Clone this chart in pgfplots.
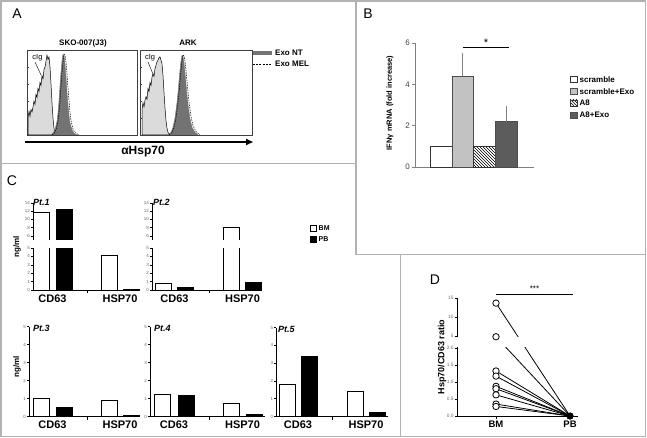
\documentclass[border=0pt]{standalone}
\usepackage{pgfplots}
\pgfplotsset{compat=1.18}
\usepackage{fontspec}
\setmainfont{Liberation Sans}
\usetikzlibrary{patterns,arrows.meta}
\newcommand\fs[1]{\fontsize{#1}{#1}\selectfont}
\definecolor{framec}{gray}{0.70}
\definecolor{isoc}{gray}{0.86}
\definecolor{ntc}{gray}{0.45}
\definecolor{lgray}{gray}{0.76}
\definecolor{dgray}{gray}{0.36}
\definecolor{tickc}{gray}{0.40}
\pgfplotsset{
 every axis/.append style={/pgf/number format/assume math mode=true},
 cax/.style={scale only axis, anchor=south west, axis lines*=left, clip=true,
   axis line style={black, line width=0.9pt}, tick style={black, line width=0.5pt},
   major tick length=2pt, tick align=outside, xmin=0, ymin=0,
   yticklabel style={font=\fs{4.5}, text=tickc, inner sep=0.8pt},
   xticklabel style={font=\bfseries\fs{11}, inner sep=1pt, yshift=-1.5pt},
   major x tick style={draw=none},
   extra x tick style={major x tick style={draw=black}, major tick length=3pt},
 },
 bm/.style={ybar, bar shift=0pt, bar width=16, fill=white, draw=black, line width=0.9pt},
 pb/.style={ybar, bar shift=0pt, bar width=16, fill=black, draw=black, line width=0.9pt},
 hax/.style={scale only axis, anchor=south west, xmin=0, ymin=0, ymax=100,
   axis line style={black!75, line width=0.6pt}, tick style={black!75, line width=0.4pt},
   tick align=inside, major tick length=2pt, ytick={20,40,60,80}, xtick={5,10,15,20},
   xticklabels={}, yticklabels={}, xtick pos=bottom, ytick pos=left},
}
\begin{document}
\begin{tikzpicture}
\path[use as bounding box] (0pt,0pt) rectangle (647pt,-438pt);
\begin{scope}[x=1pt,y=-1pt]
\draw[framec, line width=1.3pt] (1,1) rectangle (645.5,436.5);
\draw[framec, line width=1.3pt] (1,163.5) -- (356,163.5);
\draw[framec, line width=1.3pt] (356,1) -- (356,254.5) -- (645.5,254.5);
\draw[framec, line width=1.3pt] (400.5,254.5) -- (400.5,436.5);
\node[font=\fs{14}] at (17,14) {A};
\node[font=\fs{14}] at (368,14) {B};
\node[font=\fs{14}] at (12,181) {C};
\node[font=\fs{14}] at (435,280) {D};
% panel A texts
\node[font=\bfseries\fs{8}] at (83,43) {SKO-007(J3)};
\node[font=\bfseries\fs{8}] at (188,43) {ARK};
\draw[ntc, line width=4pt] (253,53) -- (272,53);
\node[font=\bfseries\fs{8}, anchor=west, inner sep=1pt] at (274,53) {Exo NT};
\draw[black, line width=0.8pt, dash pattern=on 2pt off 1.2pt] (253,64) -- (272,64);
\node[font=\bfseries\fs{8}, anchor=west, inner sep=1pt] at (274,64) {Exo MEL};
\draw[-{Triangle[length=7pt,width=6pt]}, line width=1.6pt] (25,142) -- (253,142);
\node[font=\bfseries\fs{12}] at (143,152) {αHsp70};
\node[font=\fs{7.5}, inner sep=0.5pt] at (37.5,58) {cIg};
\draw[line width=0.4pt] (35,62) -- (41,75);
\node[font=\fs{7.5}, inner sep=0.5pt] at (150,58) {cIg};
\draw[line width=0.4pt] (148,62) -- (153,74);
% panel B
\node[font=\bfseries\fs{7.5}, rotate=90] at (390,103) {IFNγ mRNA (fold increase)};
\draw[black!80, line width=0.5pt, fill=white] (570,76) rectangle (577,82.5);
\draw[black!70, line width=0.5pt, fill=lgray] (570,88) rectangle (577,94.5);
\draw[black!80, line width=0.5pt, fill=white] (570,100) rectangle (577,106.5);
\fill[pattern=north west lines] (570,100) rectangle (577,106.5);
\draw[black!80, line width=0.5pt] (570,100) rectangle (577,106.5);
\draw[black!70, line width=0.5pt, fill=dgray] (570,112) rectangle (577,118.5);
\node[font=\bfseries\fs{8}, anchor=west, inner sep=1pt] at (578.5,79.2) {scramble};
\node[font=\bfseries\fs{8}, anchor=west, inner sep=1pt] at (578.5,91.2) {scramble+Exo};
\node[font=\bfseries\fs{8}, anchor=west, inner sep=1pt] at (578.5,103.2) {A8};
\node[font=\bfseries\fs{8}, anchor=west, inner sep=1pt] at (578.5,115.2) {A8+Exo};
% panel C texts
\node[font=\bfseries\fs{8}, rotate=90] at (17,247) {ng/ml};
\node[font=\bfseries\fs{8}, rotate=90] at (17,367) {ng/ml};
\draw[black, line width=0.7pt, fill=white] (310.5,225) rectangle (316,231);
\draw[black, line width=0.7pt, fill=black] (310.5,236) rectangle (316,242);
\node[font=\bfseries\fs{7}, anchor=west, inner sep=1pt] at (317.5,228.2) {BM};
\node[font=\bfseries\fs{7}, anchor=west, inner sep=1pt] at (317.5,239.2) {PB};
\node[font=\bfseries\itshape\fs{9}, anchor=west, inner sep=0pt] at (33,202) {Pt.1};
\node[font=\bfseries\itshape\fs{9}, anchor=west, inner sep=0pt] at (153,202) {Pt.2};
\node[font=\bfseries\itshape\fs{9}, anchor=west, inner sep=0pt] at (33,328) {Pt.3};
\node[font=\bfseries\itshape\fs{9}, anchor=west, inner sep=0pt] at (154,328) {Pt.4};
\node[font=\bfseries\itshape\fs{9}, anchor=west, inner sep=0pt] at (278,329) {Pt.5};
% panel D
\node[font=\bfseries\fs{9}, rotate=90] at (442,357) {Hsp70/CD63 ratio};
\end{scope}

% ---------- Panel A histograms
\begin{axis}[hax, at={(27pt,-135pt)}, width=110pt, height=85pt, xmax=110]
\addplot[fill=isoc, draw=black, line width=0.5pt] coordinates {(1,0)(1,20)(2,28)(3,22)(4,30)(5,27)(6,33)(7,40)(8,36)(9,48)(10,44)(11,55)(12,51)(13,62)(14,58)(15,70)(16,66)(17,77)(18,80)(19,87)(20,94)(21,89)(22,92)(23,80)(24,60)(25,38)(26,20)(27,8)(28,2)(29,0)} \closedcycle;
\addplot[fill=ntc, draw=ntc, line width=0.4pt] coordinates {(24,0)(26,2)(28,6)(30,16)(31,26)(32,40)(33,58)(34,74)(35,87)(36,95)(37,93)(38,84)(39,68)(40,50)(41,35)(42,23)(43,14)(45,6)(47,2)(50,0)} \closedcycle;
\addplot[black, line width=0.5pt, dash pattern=on 1.5pt off 1pt] coordinates {(25,0)(27,2)(29,6)(31,16)(32,26)(33,40)(34,57)(35,73)(36,86)(37,95)(38,94)(39,86)(40,72)(41,55)(42,40)(43,27)(44,17)(46,7)(48,3)(52,0)};
\end{axis}
\begin{axis}[hax, at={(140pt,-135pt)}, width=112pt, height=85pt, xmax=112]
\addplot[fill=isoc, draw=black, line width=0.5pt] coordinates {(2,0)(2,30)(3,38)(4,33)(5,41)(6,45)(7,42)(8,55)(9,51)(10,62)(11,58)(12,68)(13,72)(14,69)(15,78)(16,82)(17,86)(18,88)(19,91)(20,92)(21,88)(22,84)(23,70)(24,50)(25,32)(26,17)(27,8)(28,3)(30,0)} \closedcycle;
\addplot[fill=ntc, draw=ntc, line width=0.4pt] coordinates {(28,0)(31,3)(33,9)(35,20)(37,38)(38,50)(39,63)(40,76)(41,87)(42,94)(43,92)(44,85)(45,73)(46,60)(47,47)(48,36)(50,19)(52,9)(55,3)(58,0)} \closedcycle;
\addplot[black, line width=0.5pt, dash pattern=on 1.5pt off 1pt] coordinates {(29,0)(32,3)(34,9)(36,20)(38,38)(39,50)(40,63)(41,76)(42,87)(43,94)(44,93)(45,87)(46,76)(47,63)(48,50)(49,39)(51,22)(53,11)(56,4)(60,0)};
\end{axis}

% ---------- Panel B
\begin{axis}[scale only axis, anchor=south west, at={(415pt,-167pt)}, width=119pt, height=124pt,
  xmin=-0.19, xmax=5.28, ymin=0, ymax=6, ytick={0,2,4,6}, xtick=\empty,
  axis lines*=left, axis line style={gray, line width=0.6pt}, tick style={gray, line width=0.6pt},
  major tick length=3pt, tick align=outside,
  yticklabel style={font=\fs{8}, text=black!75, inner sep=2pt}, clip=false]
\addplot[ybar, bar shift=0pt, bar width=1, fill=white, draw=black!80, line width=0.5pt] coordinates {(1,1.0)};
\addplot[ybar, bar shift=0pt, bar width=1, fill=lgray, draw=black!70, line width=0.5pt,
  error bars/.cd, y dir=plus, y explicit, error bar style={gray, line width=0.7pt},
  error mark options={gray, mark size=3.5pt, line width=0.7pt}] coordinates {(2,4.4) +- (0,0.97)};
\addplot[ybar, bar shift=0pt, bar width=1, fill=white, draw=black!80, line width=0.5pt, postaction={pattern=north west lines}] coordinates {(3,1.0)};
\addplot[ybar, bar shift=0pt, bar width=1, fill=dgray, draw=black!70, line width=0.5pt,
  error bars/.cd, y dir=plus, y explicit, error bar style={gray, line width=0.7pt},
  error mark options={gray, mark size=3.5pt, line width=0.7pt}] coordinates {(4,2.2) +- (0,0.57)};
\draw[black, line width=0.8pt] (axis cs:2.02,5.78) -- (axis cs:4.13,5.78);
\node[font=\fs{11}] at (axis cs:3.07,6.0) {*};
\end{axis}

% ---------- Panel C : Pt.1
\begin{axis}[cax, at={(33pt,-290pt)}, width=107pt, height=42pt, xmax=107, ymax=5, ytick={0,1,2,3,4,5},
  xtick={19.5,87}, xticklabels={CD63,HSP70}, extra x ticks={54}, extra x tick labels={}]
\addplot[bm] coordinates {(8,11.7)};
\addplot[pb] coordinates {(31,12.4)};
\addplot[bm] coordinates {(76.5,4.1)};
\addplot[pb] coordinates {(98,0.1)};
\end{axis}
\begin{axis}[cax, at={(33pt,-241.2pt)}, width=107pt, height=38.2pt, xmax=107, ymin=4.7, ymax=14, ytick={6,8,10,12,14},
  axis x line=none]
\addplot[bm] coordinates {(8,11.7)};
\addplot[pb] coordinates {(31,12.4)};
\fill[white] (axis cs:-6,4.5) rectangle (axis cs:110,5.0);
\end{axis}
% Pt.2
\begin{axis}[cax, at={(152pt,-290pt)}, width=110pt, height=42pt, xmax=110, ymax=5, ytick={0,1,2,3,4,5},
  xtick={22.5,90.5}, xticklabels={CD63,HSP70}, extra x ticks={57}, extra x tick labels={}]
\addplot[bm] coordinates {(11.5,0.75)};
\addplot[pb] coordinates {(33.5,0.35)};
\addplot[bm] coordinates {(79.5,8.0)};
\addplot[pb] coordinates {(101.5,0.85)};
\end{axis}
\begin{axis}[cax, at={(152pt,-241.2pt)}, width=110pt, height=38.2pt, xmax=110, ymin=4.7, ymax=14, ytick={6,8,10,12,14},
  axis x line=none, clip=false]
\begin{scope}
\clip (axis cs:-6,5.0) rectangle (axis cs:112,14);
\addplot[bm] coordinates {(79.5,8.0)};
\end{scope}
\fill[white] (axis cs:-6,4.5) rectangle (axis cs:113,5.0);
\end{axis}
% Pt.3
\begin{axis}[cax, at={(29pt,-416.5pt)}, width=111pt, height=90pt, xmax=111, ymax=5, ytick={0,1,2,3,4,5},
  xtick={23.5,91}, xticklabels={CD63,HSP70}, extra x ticks={58}, extra x tick labels={}]
\addplot[bm] coordinates {(12,1.03)};
\addplot[pb] coordinates {(35,0.52)};
\addplot[bm] coordinates {(80,0.9)};
\addplot[pb] coordinates {(102,0.05)};
\end{axis}
% Pt.4
\begin{axis}[cax, at={(150pt,-416.5pt)}, width=115pt, height=90pt, xmax=115, ymax=5, ytick={0,1,2,3,4,5},
  xtick={24,92.5}, xticklabels={CD63,HSP70}, extra x ticks={59}, extra x tick labels={}]
\addplot[bm] coordinates {(12.5,1.2)};
\addplot[pb] coordinates {(36,1.15)};
\addplot[bm] coordinates {(81,0.75)};
\addplot[pb] coordinates {(104,0.1)};
\end{axis}
% Pt.5
\begin{axis}[cax, at={(276pt,-416.5pt)}, width=112pt, height=89pt, xmax=112, ymax=5, ytick={0,1,2,3,4,5},
  xtick={22,90}, xticklabels={CD63,HSP70}, extra x ticks={56}, extra x tick labels={}]
\addplot[bm] coordinates {(11,1.78)};
\addplot[pb] coordinates {(33,3.35)};
\addplot[bm] coordinates {(79,1.42)};
\addplot[pb] coordinates {(101,0.25)};
\end{axis}

% ---------- Panel D
\begin{axis}[scale only axis, anchor=south west, at={(457pt,-416pt)}, width=121pt, height=117.5pt,
  xmin=0.473, xmax=2.108, ymin=0, ymax=15,
  y coord trafo/.code={\pgfmathparse{min(#1,2)+max(#1-2,0)*0.112}},
  ytick={0,0.5,1,1.5,2,5,10,15}, yticklabels={0.0,0.5,1.0,1.5,2.0,5,10,15},
  xtick={1,2}, xticklabels={BM,PB},
  axis lines*=left, axis line style={black, line width=0.9pt}, tick style={black, line width=0.5pt},
  major tick length=2.5pt, tick align=outside, clip=false,
  yticklabel style={font=\fs{4.8}, text=tickc, inner sep=0.8pt},
  xticklabel style={font=\bfseries\fs{9.5}, inner sep=1pt, yshift=-1pt}]
\addplot[black, line width=0.8pt] coordinates {(1,13.7)(2,0)};
\addplot[black, line width=0.8pt] coordinates {(1,4.9)(2,0)};
\addplot[black, line width=0.8pt] coordinates {(1,1.32)(2,0)};
\addplot[black, line width=0.8pt] coordinates {(1,1.17)(2,0)};
\addplot[black, line width=0.8pt] coordinates {(1,0.87)(2,0)};
\addplot[black, line width=0.8pt] coordinates {(1,0.80)(2,0)};
\addplot[black, line width=0.8pt] coordinates {(1,0.62)(2,0)};
\addplot[black, line width=0.8pt] coordinates {(1,0.35)(2,0)};
\addplot[black, line width=0.8pt] coordinates {(1,0.28)(2,0)};
\fill[white] (axis cs:0.44,2.25) rectangle (axis cs:2.2,4.7);
\addplot[only marks, mark=*, mark size=3.2pt, mark options={fill=white, draw=black, line width=0.8pt}] coordinates {(1,13.7)(1,4.9)(1,1.32)(1,1.17)(1,0.87)(1,0.80)(1,0.62)(1,0.35)(1,0.28)};
\addplot[only marks, mark=*, mark size=3pt, mark options={fill=black, draw=black}] coordinates {(2,0)(2,0)(2,0)(2,0)(2,0)(2,0)(2,0)(2,0)(2,0)};
\draw[black, line width=0.9pt] (rel axis cs:0.322,1.03) -- (rel axis cs:0.96,1.03);
\node[font=\fs{8}] at (rel axis cs:0.64,1.08) {***};
\end{axis}
\end{tikzpicture}
\end{document}
